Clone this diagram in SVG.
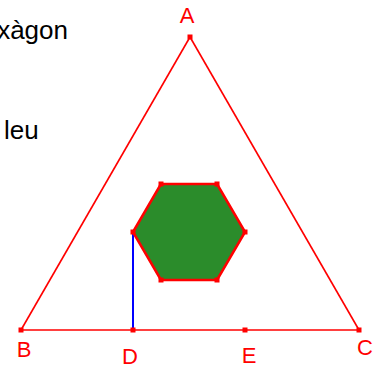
<svg xmlns="http://www.w3.org/2000/svg" width="384" height="371" viewBox="0 0 384 371">
<style>
.lbl{font-family:"Liberation Sans",Arial,sans-serif;font-size:22px;fill:#ff0000}
.txt{font-family:"Liberation Sans",Arial,sans-serif;font-size:26px;fill:#000000}
.pt{fill:#ff0000}
.seg{stroke:#ff0000;stroke-width:1.6;fill:none}
</style>
<rect width="384" height="371" fill="#ffffff"/>
<text class="txt" x="68" y="39" text-anchor="end">xàgon</text>
<text class="txt" x="4" y="139">leu</text>
<g id="connectors">
<line class="seg" x1="190" y1="37" x2="21" y2="330"/>
<line class="seg" x1="190" y1="37" x2="359" y2="330"/>
<line class="seg" x1="21" y1="330" x2="359" y2="330"/>
<line x1="133" y1="232" x2="133" y2="330" stroke="#0000ff" stroke-width="2"/>
</g>
<g id="hexagon">
<polygon points="161,184 217,184 245,232 217,280 161,280 133,232" fill="#2b8c2b" stroke="#ff0000" stroke-width="2.5" stroke-linejoin="round"/>
<rect class="pt" x="158.5" y="181.5" width="5" height="5"/>
<rect class="pt" x="214.5" y="181.5" width="5" height="5"/>
<rect class="pt" x="242.5" y="229.5" width="5" height="5"/>
<rect class="pt" x="214.5" y="277.5" width="5" height="5"/>
<rect class="pt" x="158.5" y="277.5" width="5" height="5"/>
<rect class="pt" x="130.5" y="229.5" width="5" height="5"/>
</g>
<g id="A"><rect class="pt" x="187.5" y="34.5" width="5" height="5"/><text class="lbl" x="187" y="23" text-anchor="middle">A</text></g>
<g id="B"><rect class="pt" x="18.5" y="327.5" width="5" height="5"/><text class="lbl" x="24" y="357" text-anchor="middle">B</text></g>
<g id="C"><rect class="pt" x="356.5" y="327.5" width="5" height="5"/><text class="lbl" x="365" y="355" text-anchor="middle">C</text></g>
<g id="D"><rect class="pt" x="130.5" y="327.5" width="5" height="5"/><text class="lbl" x="130" y="364" text-anchor="middle">D</text></g>
<g id="E"><rect class="pt" x="242.5" y="327.5" width="5" height="5"/><text class="lbl" x="249" y="363" text-anchor="middle">E</text></g>
</svg>
